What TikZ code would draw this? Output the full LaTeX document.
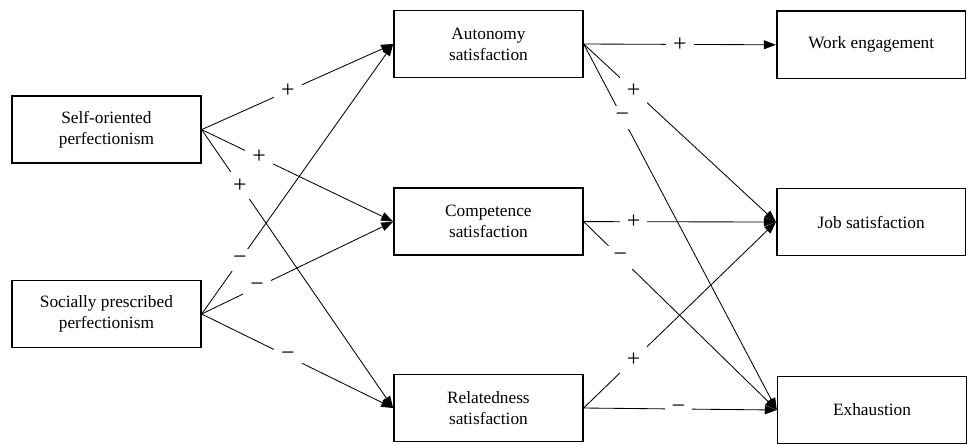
\documentclass[tikz,border=0pt]{standalone}
\usepackage{fontspec}
\setmainfont{Liberation Serif}
\usetikzlibrary{arrows.meta,positioning}

\begin{document}
\begin{tikzpicture}[
    box/.style={rectangle, draw, line width=1.2pt, minimum width=4.72cm, minimum height=1.68cm, align=center, font=\fontsize{12.3}{15}\selectfont},
    arrow/.style={-{Triangle[length=3mm, width=2.2mm]}, line width=0.6pt},
    sign/.style={fill=white, inner sep=5pt, font=\fontsize{17}{18}\selectfont}
]
    \useasboundingbox (0,0) rectangle (24.2,-11.1);

    % Perfectionism
    \node[box] (selfp) at (2.66,-3.24) {Self-oriented\\perfectionism};
    \node[box] (socp) at (2.66,-7.85) {Socially prescribed\\perfectionism};

    % Need satisfaction
    \node[box] (auton) at (12.21,-1.10) {Autonomy\\satisfaction};
    \node[box] (compet) at (12.21,-5.54) {Competence\\satisfaction};
    \node[box] (relat) at (12.21,-10.20) {Relatedness\\satisfaction};

    % Outcomes
    \node[box] (engage) at (21.78,-1.12) {Work engagement};
    \node[box] (jobsat) at (21.78,-5.55) {Job satisfaction};
    \node[box] (exhaust) at (21.80,-10.25) {Exhaustion};

    \draw[arrow] (selfp.east) -- node[sign, pos=0.45] {+} (auton.west);
    \draw[arrow] (selfp.east) -- node[sign, pos=0.30] {+} (compet.west);
    \draw[arrow] (selfp.east) -- node[sign, pos=0.20] {+} (relat.west);
    \draw[arrow] (socp.east) -- node[sign, pos=0.20] {−} (auton.west);
    \draw[arrow] (socp.east) -- node[sign, pos=0.29] {−} (compet.west);
    \draw[arrow] (socp.east) -- node[sign, pos=0.45] {−} (relat.west);

    \draw[arrow] (auton.east) -- node[sign, pos=0.50] {+} (engage.west);
    \draw[arrow] (auton.east) -- node[sign, pos=0.26] {+} (jobsat.west);
    \draw[arrow] (auton.east) -- node[sign, pos=0.20] {−} (exhaust.west);
    \draw[arrow] (compet.east) -- node[sign, pos=0.26] {+} (jobsat.west);
    \draw[arrow] (compet.east) -- node[sign, pos=0.19] {−} (exhaust.west);
    \draw[arrow] (relat.east) -- node[sign, pos=0.26] {+} (jobsat.west);
    \draw[arrow] (relat.east) -- node[sign, pos=0.49] {−} (exhaust.west);
\end{tikzpicture}
\end{document}
